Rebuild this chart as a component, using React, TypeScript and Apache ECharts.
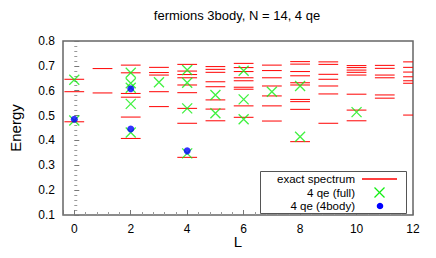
import React, { useEffect, useRef } from "react";
import * as echarts from "echarts";

// Exact spectrum: energies per angular momentum L (index = L)
const exactL: number[] = [0, 1, 2, 3, 4, 5, 6, 7, 8, 9, 10, 11, 12];
const exactSpectrum: number[][] = [
  [0.646, 0.596, 0.475],
  [0.689, 0.591],
  [0.703, 0.672, 0.589, 0.574, 0.494, 0.408],
  [0.694, 0.673, 0.663, 0.596, 0.536],
  [0.706, 0.679, 0.665, 0.652, 0.623, 0.592, 0.529, 0.469, 0.332],
  [0.697, 0.686, 0.674, 0.636, 0.616, 0.563, 0.526, 0.479],
  [0.71, 0.693, 0.677, 0.652, 0.64, 0.614, 0.606, 0.539, 0.493],
  [0.703, 0.681, 0.652, 0.619, 0.579, 0.539, 0.478],
  [0.717, 0.707, 0.677, 0.66, 0.632, 0.623, 0.565, 0.556, 0.525, 0.395],
  [0.716, 0.706, 0.666, 0.646, 0.619, 0.587, 0.469],
  [0.701, 0.693, 0.683, 0.674, 0.663, 0.586, 0.522, 0.479],
  [0.702, 0.69, 0.663, 0.652, 0.583, 0.57],
  [0.716, 0.694, 0.675, 0.656, 0.64, 0.63, 0.502],
];

// 4 qe (full)
const fullL: number[] = [0, 0, 2, 2, 2, 2, 2, 3, 4, 4, 4, 4, 5, 5, 6, 6, 6, 7, 8, 8, 10];
const fullE: number[] = [
  0.644, 0.48, 0.672, 0.63, 0.612, 0.547, 0.432, 0.634, 0.683, 0.632, 0.529, 0.348,
  0.583, 0.509, 0.68, 0.565, 0.485, 0.596, 0.619, 0.415, 0.514,
];

// 4 qe (4body)
const bodyL: number[] = [0, 2, 2, 4];
const bodyE: number[] = [0.485, 0.608, 0.446, 0.358];

const yTicks: number[] = [0.1, 0.2, 0.3, 0.4, 0.5, 0.6, 0.7, 0.8];

const FONT = "Liberation Sans, Arial, sans-serif";
const RED = "#ff0000";
const GREEN = "#11ee11";
const BLUE = "#0000ff";

export default function App() {
  const ref = useRef<HTMLDivElement>(null);

  useEffect(() => {
    if (!ref.current) return;
    const chart = echarts.init(ref.current, undefined, { renderer: "svg" });

    const exactData: number[][] = [];
    exactL.forEach((L, i) => {
      exactSpectrum[i].forEach((e) => exactData.push([L, e]));
    });
    const fullData = fullL.map((L, i) => [L, fullE[i]]);
    const bodyData = bodyL.map((L, i) => [L, bodyE[i]]);

    const halfW = 0.35;
    const rows = [179, 192.5, 206];
    const legendText = (text: string, y: number) => ({
      type: "text",
      x: 355,
      y,
      z: 11,
      style: {
        text,
        fontSize: 11.5,
        lineHeight: 11,
        fontFamily: FONT,
        fill: "#000",
        textAlign: "right",
        textVerticalAlign: "middle",
      },
    });

    chart.setOption({
      animation: false,
      backgroundColor: "#ffffff",
      textStyle: { fontFamily: FONT },
      grid: {
        left: 63,
        right: 23,
        top: 41,
        bottom: 43,
        show: true,
        borderColor: "#666",
        borderWidth: 1.5,
      },
      xAxis: {
        type: "value",
        min: -0.4,
        max: 12,
        splitNumber: 6,
        axisLine: { show: false },
        axisTick: { show: true, inside: true, length: 5, lineStyle: { color: "#777" } },
        minorTick: { show: true, splitNumber: 5, length: 3, lineStyle: { color: "#999" } },
        splitLine: { show: false },
        axisLabel: {
          margin: 8,
          fontSize: 12,
          color: "#000",
          fontFamily: FONT,
          formatter: (v: number) => (Math.abs(v - Math.round(v)) < 1e-6 ? String(Math.round(v)) : ""),
        },
      },
      yAxis: {
        type: "value",
        min: yTicks[0],
        max: yTicks[yTicks.length - 1],
        interval: 0.1,
        axisLine: { show: false },
        axisTick: { show: true, inside: true, length: 5, lineStyle: { color: "#777" } },
        minorTick: { show: true, splitNumber: 5, length: 3, lineStyle: { color: "#999" } },
        splitLine: { show: false },
        axisLabel: {
          margin: 8,
          fontSize: 12,
          color: "#000",
          fontFamily: FONT,
          formatter: (v: number) => v.toFixed(1),
        },
      },
      series: [
        {
          type: "custom",
          name: "exact spectrum",
          clip: true,
          data: exactData,
          renderItem: (params: any, api: any) => {
            const L = api.value(0);
            const E = api.value(1);
            const p1 = api.coord([L - halfW, E]);
            const p2 = api.coord([L + halfW, E]);
            return {
              type: "line",
              shape: { x1: p1[0], y1: p1[1], x2: p2[0], y2: p2[1] },
              style: { stroke: RED, lineWidth: 1 },
            };
          },
          z: 2,
        },
        {
          type: "scatter",
          name: "4 qe (full)",
          data: fullData,
          symbol: "path://M0,0L10,10M0,10L10,0",
          symbolSize: 10,
          itemStyle: { color: "none", borderColor: GREEN, borderWidth: 1.3 },
          z: 3,
        },
        {
          type: "scatter",
          name: "4 qe (4body)",
          data: bodyData,
          symbol: "circle",
          symbolSize: 7,
          itemStyle: { color: BLUE },
          z: 4,
        },
      ],
      graphic: [
        {
          type: "text",
          x: 237,
          y: 15,
          style: {
            text: "fermions 3body, N = 14, 4 qe",
            fontSize: 13,
            fontFamily: FONT,
            fill: "#000",
            textAlign: "center",
            textVerticalAlign: "middle",
          },
        },
        {
          type: "text",
          x: 15,
          y: 128,
          rotation: Math.PI / 2,
          style: {
            text: "Energy",
            fontSize: 15,
            fontFamily: FONT,
            fill: "#000",
            textAlign: "center",
            textVerticalAlign: "middle",
          },
        },
        {
          type: "text",
          x: 238,
          y: 241,
          style: {
            text: "L",
            fontSize: 15,
            lineHeight: 12,
            fontFamily: FONT,
            fill: "#000",
            textAlign: "center",
            textVerticalAlign: "middle",
          },
        },
        {
          type: "rect",
          shape: { x: 260.5, y: 171.5, width: 146, height: 42 },
          style: { fill: "#fff", stroke: "#555", lineWidth: 1 },
          z: 10,
        },
        legendText("exact spectrum", rows[0]),
        legendText("4 qe (full)", rows[1]),
        legendText("4 qe (4body)", rows[2]),
        {
          type: "line",
          z: 12,
          shape: { x1: 362, y1: rows[0], x2: 397, y2: rows[0] },
          style: { stroke: RED, lineWidth: 1.5 },
        },
        {
          type: "line",
          z: 11,
          shape: { x1: 374.5, y1: rows[1] - 5, x2: 384.5, y2: rows[1] + 5 },
          style: { stroke: GREEN, lineWidth: 1.3 },
        },
        {
          type: "line",
          z: 11,
          shape: { x1: 374.5, y1: rows[1] + 5, x2: 384.5, y2: rows[1] - 5 },
          style: { stroke: GREEN, lineWidth: 1.3 },
        },
        {
          type: "circle",
          z: 11,
          shape: { cx: 380, cy: rows[2], r: 3.3 },
          style: { fill: BLUE },
        },
      ],
    });

    return () => chart.dispose();
  }, []);

  return (
    <div
      ref={ref}
      style={{ position: "fixed", left: 0, top: 0, width: 436, height: 258 }}
    />
  );
}
